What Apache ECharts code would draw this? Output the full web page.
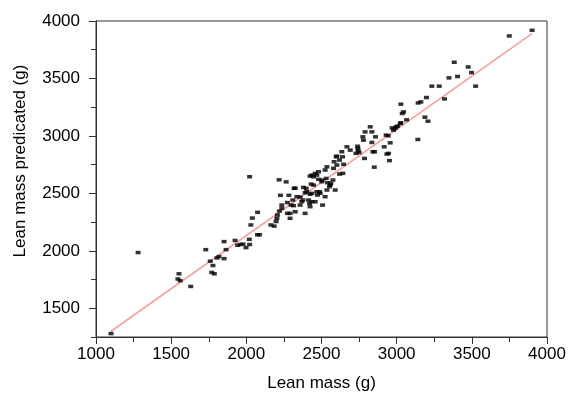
<!DOCTYPE html>
<html>
<head>
<meta charset="utf-8">
<script src="https://cdn.jsdelivr.net/npm/echarts@6/dist/echarts.min.js"></script>
<style>html,body{margin:0;padding:0;background:#fff}#c{width:569px;height:394px}</style>
</head>
<body>
<div id="c"></div>
<script>
// Lean mass (g) measured
var leanMass = [1100,1280,1552,1545,1560,1630,1730,1760,1778,1770,1787,1805,1818,1852,1852,1865,1925,1942,1960,1978,1998,
2020,2022,2022,2030,2040,2075,2074,2088,2163,2185,2198,
2203,2207,2220,2218,2236,2227,2265,2273,2283,2291,2291,2298,2309,2314,2318,2325,2325,2336,2358,2358,2369,2376,2380,2391,2391,2398,2236,2273,
2402,2414,2420,2424,2424,2424,2431,2436,2436,2436,2447,2447,2458,2458,2469,2469,2473,2480,2480,2487,2491,2502,2502,2507,2524,2524,2531,2536,2536,2540,2553,2558,2562,2576,2580,2584,2591,
2598,2602,2602,2620,2620,2635,2640,2642,2647,2669,2691,2729,2740,2742,2744,2750,2775,2779,2786,2790,
2824,2835,2835,2842,2853,2851,2859,2917,2930,2944,2946,2935,2952,2957,2970,2979,2990,2997,
3006,3024,3028,3028,3037,3046,3066,3141,3143,3161,3188,3198,3208,3234,3283,3318,3348,3383,3405,3476,3498,3525,3749,3901];
// Lean mass predicated (g)
var leanMassPredicated = [1280,1985,1800,1755,1740,1690,2010,1910,1872,1812,1800,1938,1950,1932,2080,2010,2090,2048,2055,2058,2028,
2100,2055,2645,2225,2285,2335,2140,2140,2225,2215,2255,
2283,2312,2346,2618,2370,2483,2600,2420,2483,2326,2283,2398,2442,2393,2544,2340,2545,2471,2468,2398,2427,2442,2552,2326,2505,2544,2398,2326,
2514,2442,2413,2650,2384,2492,2581,2659,2500,2427,2644,2572,2674,2427,2659,2514,2485,2688,2622,2514,2500,2601,2616,2398,2703,2471,2630,2731,2529,2592,2558,2572,2588,2616,2718,2775,2529,
2818,2824,2746,2790,2668,2862,2818,2674,2753,2905,2876,2848,2910,2890,2870,2855,2992,2963,2804,3035,
3079,3035,2943,2862,2862,2728,2992,2905,3007,3001,2848,2842,2785,2940,3070,3050,3065,3079,
3085,3108,3114,3276,3195,3209,3140,2969,3287,3296,3163,3334,3128,3433,3433,3322,3505,3641,3517,3600,3551,3433,3870,3919];
// regression line end points
var fitX = [1100, 3900];
var fitY = [1300, 3890];
var xTicks = [1000,1500,2000,2500,3000,3500,4000];
var yTicks = [1500,2000,2500,3000,3500,4000];
var yMinorTicks = [1250,1750,2250,2750,3250,3750];

var points = leanMass.map(function(v,i){return [v, leanMassPredicated[i]];});
var fit = fitX.map(function(v,i){return [v, fitY[i]];});

var font = "'Liberation Sans', Arial, sans-serif";
var axisColor = '#333';
var plain = function(v){return String(v);};
var chart = echarts.init(document.getElementById('c'), null, {renderer:'canvas'});
chart.setOption({
  animation:false,
  backgroundColor:'#fff',
  grid:{left:96, top:21, width:451, height:316, outerBoundsMode:'none', containLabel:false,
        show:true, borderColor:axisColor, borderWidth:1, backgroundColor:'transparent'},
  xAxis:{
    type:'value', min:xTicks[0], max:xTicks[xTicks.length-1], interval:500,
    axisLine:{show:true, onZero:false, lineStyle:{color:axisColor, width:1}},
    axisTick:{show:true, length:7, lineStyle:{color:axisColor}},
    minorTick:{show:true, splitNumber:2, length:5, lineStyle:{color:axisColor}},
    splitLine:{show:false},
    axisLabel:{color:'#000', fontSize:17, fontFamily:font, margin:9, formatter:plain},
    name:'Lean mass (g)', nameLocation:'middle', nameGap:38,
    nameTextStyle:{color:'#000', fontSize:17, fontFamily:font}
  },
  yAxis:[{
    type:'value', min:1250, max:4000,
    axisLine:{show:true, onZero:false, lineStyle:{color:axisColor, width:1}},
    axisTick:{show:true, length:7, customValues:yTicks, lineStyle:{color:axisColor}},
    splitLine:{show:false},
    axisLabel:{color:'#000', fontSize:17, fontFamily:font, margin:16, customValues:yTicks, formatter:plain}
  },{
    type:'value', min:1250, max:4000, position:'left',
    axisLine:{show:false},
    axisTick:{show:true, length:5, customValues:yMinorTicks, lineStyle:{color:axisColor}},
    splitLine:{show:false},
    axisLabel:{show:false}
  }],
  graphic:[{
    type:'text', x:20, y:161, rotation:Math.PI/2,
    style:{text:'Lean mass predicated (g)', fill:'#000', font:'17px ' + font, textAlign:'center', textVerticalAlign:'middle'}
  }],
  series:[{
    type:'line', data:fit, symbol:'none', z:1,
    lineStyle:{color:'#f4a0a0', width:1.6}
  },{
    type:'scatter', data:points, symbol:'rect', symbolSize:[5,3.5], z:2,
    itemStyle:{color:'#000'}
  }]
});
</script>
</body>
</html>
